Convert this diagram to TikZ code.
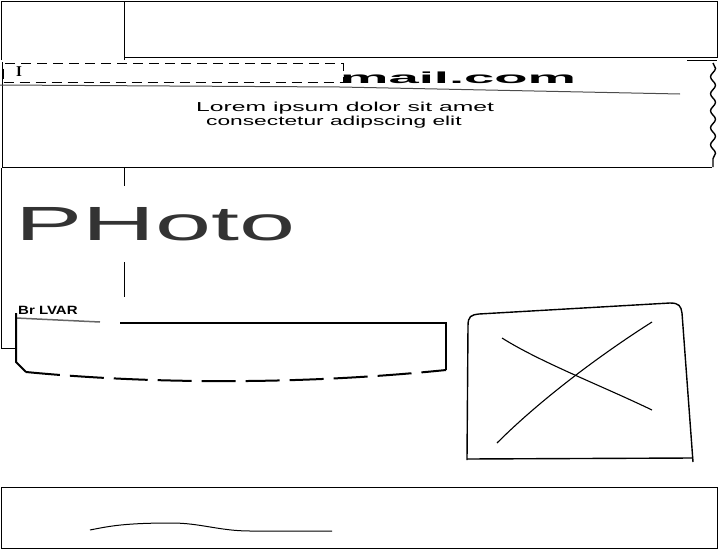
\documentclass[tikz,border=0pt]{standalone}
\usepackage{fontspec}
\setmainfont{Liberation Sans}
\newfontfamily\serifcursor{Liberation Serif}
\usetikzlibrary{decorations.pathmorphing}
\begin{document}
\begin{tikzpicture}[x=1pt,y=-1pt,
  sk/.style={line width=0.9pt},
  thick box/.style={line width=2pt},
  photo box/.style={line width=1.4pt},
  field/.style={draw,fill=white,line width=1pt,dash pattern=on 10pt off 6pt,inner sep=0pt,anchor=north west},
  hand/.style={inner sep=0pt,anchor=base west}]
\useasboundingbox (0,0) rectangle (718,549);
% top boxes
\draw[sk] (1,60) -- (1,1) -- (717,1) -- (717,57) -- (124,57);
\draw[sk] (124,1) -- (124,60);
% header band
\draw[sk] (687,60) -- (717,60);
\draw[sk] (2,62) -- (2,167) -- (712,167);
\draw[line width=1.4pt,decorate,decoration={snake,amplitude=2.5pt,segment length=17pt}] (713,63) -- (713,167);
\draw[line width=1pt,black!70] (0,85) -- (340,87) -- (680,94);
\node[field,minimum width=340pt,minimum height=19pt] (fieldbox) at (3,63) {};
\node[inner sep=0pt] (cursor) at (19,72) {\fontsize{15}{15}\selectfont\serifcursor\bfseries I};
\node[hand] (mail) at (340,83) {\fontsize{16}{16}\selectfont\scalebox{3.4}[1]{\bfseries mail.com}};
\node[hand] (lorem1) at (196,111) {\fontsize{13}{13}\selectfont\scalebox{1.9}[1]{Lorem ipsum dolor sit amet}};
\node[hand] (lorem2) at (206,125) {\fontsize{13}{13}\selectfont\scalebox{1.75}[1]{consectetur adipscing elit}};
% left column
\draw[sk] (1,168) -- (1,348) -- (15,348);
\draw[sk] (124,168) -- (124,186);
\draw[sk] (124,262) -- (124,297);
% photo title
\node[hand,text=black!80] (photo) at (15,240) {\fontsize{48}{48}\selectfont\scalebox{2.1}[1]{PHoto}};
% input box
\node[hand] (label) at (18,314) {\fontsize{12}{12}\selectfont\scalebox{1.25}[1]{\bfseries Br LVAR}};
\draw[line width=1.5pt,black!60] (16,318) -- (100,322);
\draw[thick box] (16,313) -- (16,362) -- (26,372);
\draw[thick box] (120,323) -- (446,323) -- (446,370);
\draw[thick box,dash pattern=on 34pt off 10pt] (26,372) .. controls (150,384) and (300,385) .. (446,370);
% image placeholder
\draw[photo box] (467,460) -- (468,326) .. controls (468,316) and (471,315) .. (479,314) -- (670,303) .. controls (679,303) and (681,306) .. (682,313) -- (693,462);
\draw[photo box] (467,459) -- (693,458);
\draw[line width=1.1pt] (502,338) .. controls (540,362) and (600,385) .. (652,410);
\draw[line width=1.1pt] (497,443) .. controls (540,400) and (600,355) .. (652,322);
% footer
\draw[sk] (1,487) rectangle (717,548);
\draw[line width=1pt] (90,530) .. controls (110,526) and (125,523) .. (172,523) .. controls (200,523) and (220,531) .. (250,531) -- (332,531);
\end{tikzpicture}
\end{document}
